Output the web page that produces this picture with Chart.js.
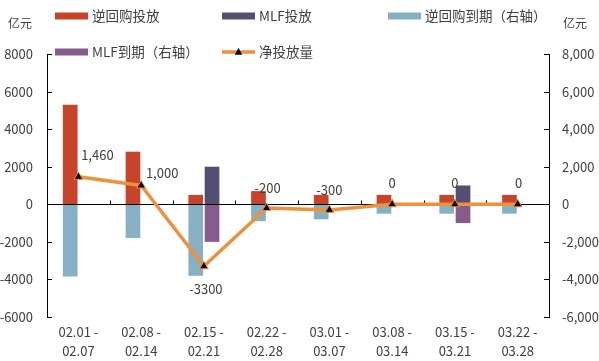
<!DOCTYPE html>
<html>
<head>
<meta charset="utf-8">
<script src="https://cdn.jsdelivr.net/npm/chart.js@4.4.1/dist/chart.umd.min.js"></script>
<style>
  body { margin: 0; background: #fff; }
</style>
</head>
<body>
<canvas id="myChart" width="599" height="361"></canvas>
<script>
// weekly open market operations (亿元)
var weeks = [
  ["02.01 -", "02.07"],
  ["02.08 -", "02.14"],
  ["02.15 -", "02.21"],
  ["02.22 -", "02.28"],
  ["03.01 -", "03.07"],
  ["03.08 -", "03.14"],
  ["03.15 -", "03.21"],
  ["03.22 -", "03.28"],
];
var repoIn = [5300, 2800, 500, 700, 500, 500, 500, 500];
var mlfIn = [null, null, 2000, null, null, null, 1000, null];
var repoOut = [-3840, -1800, -3800, -900, -800, -500, -500, -500];
var mlfOut = [null, null, -2000, null, null, null, -1000, null];
var netFlow = [1460, 1000, -3300, -200, -300, 0, 0, 0];
var axisMin = -6000;
var axisMax = 8000;
var axisStep = 2000;

var FONT = "'Noto Sans CJK SC', 'Noto Sans', sans-serif";
var TEXT = "#404040";
var ORANGE = "#F0903A";

function fmtNet(v) {
  return v >= 1000 ? v.toLocaleString("en-US") : String(v);
}

function triangle(ctx, x, y, r) {
  ctx.beginPath();
  ctx.moveTo(x, y - r);
  ctx.lineTo(x + r * 0.95, y + r * 0.7);
  ctx.lineTo(x - r * 0.95, y + r * 0.7);
  ctx.closePath();
}

// legend, unit captions, inside ticks and the zero line
var decor = {
  id: "decor",
  beforeDatasetDraw: function (chart, args) {
    if (args.meta.type !== "line") return;
    var ctx = chart.ctx;
    var area = chart.chartArea;
    var y = chart.scales.y;
    var x = chart.scales.x;
    var zero = Math.round(y.getPixelForValue(0)) + 0.5;
    ctx.save();
    ctx.strokeStyle = "#000";
    ctx.lineWidth = 1;
    ctx.beginPath();
    ctx.moveTo(area.left, zero);
    ctx.lineTo(area.right, zero);
    // category boundary ticks
    for (var i = 1; i < weeks.length; i++) {
      var bx = Math.round((x.getPixelForValue(i - 1) + x.getPixelForValue(i)) / 2) + 0.5;
      ctx.moveTo(bx, zero);
      ctx.lineTo(bx, zero - 4);
    }
    // value ticks pointing inwards
    for (var v = axisMin; v <= axisMax; v += axisStep) {
      var py = Math.round(y.getPixelForValue(v)) + 0.5;
      ctx.moveTo(area.left, py);
      ctx.lineTo(area.left + 5, py);
      ctx.moveTo(area.right, py);
      ctx.lineTo(area.right - 5, py);
    }
    ctx.stroke();
    ctx.restore();
  },
  afterDatasetsDraw: function (chart) {
    var ctx = chart.ctx;
    var meta = chart.getDatasetMeta(4);
    var shift = [[19, -22], [21, -12], [2, 23], [1, -20], [0, -20], [0, -21], [0, -21], [1, -21]];
    ctx.save();
    ctx.font = "13px " + FONT;
    ctx.fillStyle = TEXT;
    ctx.textAlign = "center";
    ctx.textBaseline = "middle";
    meta.data.forEach(function (pt, i) {
      ctx.fillText(fmtNet(netFlow[i]), pt.x + shift[i][0], pt.y + shift[i][1]);
    });
    ctx.restore();
  },
  afterDraw: function (chart) {
    var ctx = chart.ctx;
    var spots = [[55, 16], [222, 16], [388, 16], [55, 52], [222, 52]];
    ctx.save();
    ctx.font = "13.5px " + FONT;
    ctx.textBaseline = "middle";
    chart.data.datasets.forEach(function (ds, i) {
      var sx = spots[i][0], sy = spots[i][1];
      if (ds.type === "line") {
        ctx.strokeStyle = ORANGE;
        ctx.lineWidth = 3.5;
        ctx.beginPath();
        ctx.moveTo(sx, sy);
        ctx.lineTo(sx + 33, sy);
        ctx.stroke();
        ctx.fillStyle = "#000";
        triangle(ctx, sx + 16.5, sy, 4);
        ctx.fill();
      } else {
        ctx.fillStyle = ds.backgroundColor;
        ctx.fillRect(sx, sy - 3.5, 33, 7);
      }
      ctx.fillStyle = TEXT;
      ctx.textAlign = "left";
      ctx.fillText(ds.label, sx + 37, sy);
    });
    ctx.font = "12px " + FONT;
    ctx.textAlign = "center";
    ctx.fillText("亿元", 20, 23);
    ctx.fillText("亿元", 575, 23);
    ctx.restore();
  },
};

var ctx = document.getElementById("myChart").getContext("2d");
var myChart = new Chart(ctx, {
  data: {
    labels: weeks,
    datasets: [
      {
        type: "bar",
        label: "逆回购投放",
        data: repoIn,
        backgroundColor: "#C7432A",
        stack: "a",
        yAxisID: "y",
        order: 1,
      },
      {
        type: "bar",
        label: "MLF投放",
        data: mlfIn,
        backgroundColor: "#534F73",
        stack: "b",
        yAxisID: "y",
        order: 1,
      },
      {
        type: "bar",
        label: "逆回购到期（右轴）",
        data: repoOut,
        backgroundColor: "#87B0C4",
        stack: "a",
        yAxisID: "y1",
        order: 1,
      },
      {
        type: "bar",
        label: "MLF到期（右轴）",
        data: mlfOut,
        backgroundColor: "#885B8D",
        stack: "b",
        yAxisID: "y1",
        order: 1,
      },
      {
        type: "line",
        label: "净投放量",
        data: netFlow,
        borderColor: ORANGE,
        borderWidth: 3.5,
        pointStyle: "triangle",
        pointRadius: 5,
        pointBackgroundColor: "#000",
        pointBorderColor: ORANGE,
        pointBorderWidth: 1,
        yAxisID: "y",
        order: 0,
        tension: 0,
      },
    ],
  },
  options: {
    responsive: false,
    animation: false,
    categoryPercentage: 0.52,
    barPercentage: 0.9,
    layout: { padding: { top: 54, left: 0, right: 0, bottom: 0 } },
    plugins: {
      legend: { display: false },
      tooltip: { enabled: false },
    },
    scales: {
      x: {
        grid: { display: false, drawTicks: false },
        border: { display: false },
        ticks: {
          color: TEXT,
          font: { family: FONT, size: 13, lineHeight: "19px" },
          padding: 6,
          maxRotation: 0,
          autoSkip: false,
        },
        afterFit: function (s) { s.height = 44; },
      },
      y: {
        position: "left",
        min: axisMin,
        max: axisMax,
        grid: { display: false, drawTicks: false },
        border: { display: true, color: "#000", width: 1 },
        ticks: {
          stepSize: axisStep,
          color: TEXT,
          font: { family: FONT, size: 13 },
          padding: 14,
          callback: function (v) { return String(v); },
        },
        afterFit: function (s) { s.width = 47; },
      },
      y1: {
        position: "right",
        min: axisMin,
        max: axisMax,
        grid: { display: false, drawTicks: false },
        border: { display: true, color: "#000", width: 1 },
        ticks: {
          stepSize: axisStep,
          color: TEXT,
          font: { family: FONT, size: 13 },
          padding: 13,
          callback: function (v) { return v.toLocaleString("en-US"); },
        },
        afterFit: function (s) { s.width = 50; },
      },
    },
  },
  plugins: [decor],
});
</script>
</body>
</html>
